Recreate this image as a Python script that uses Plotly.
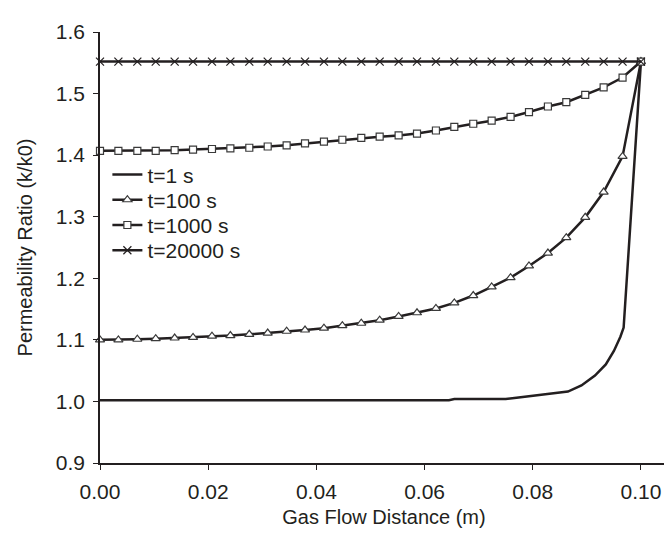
import plotly.graph_objects as go

# Gas flow distance (m) sample positions used by the marked series
x_pts = [0.0000, 0.0034, 0.0069, 0.0103, 0.0138, 0.0172, 0.0207, 0.0241, 0.0276, 0.0310,
         0.0345, 0.0379, 0.0414, 0.0448, 0.0483, 0.0517, 0.0552, 0.0586, 0.0621, 0.0655,
         0.0690, 0.0724, 0.0759, 0.0793, 0.0828, 0.0862, 0.0897, 0.0931, 0.0966, 0.1000]

k_t100 = [1.100, 1.100, 1.101, 1.102, 1.103, 1.104, 1.106, 1.107, 1.109, 1.111,
          1.114, 1.116, 1.119, 1.123, 1.127, 1.132, 1.138, 1.144, 1.151, 1.160,
          1.172, 1.186, 1.201, 1.220, 1.241, 1.266, 1.299, 1.340, 1.398, 1.552]

k_t1000 = [1.407, 1.407, 1.407, 1.407, 1.408, 1.409, 1.410, 1.411, 1.412, 1.414,
           1.416, 1.419, 1.422, 1.425, 1.428, 1.430, 1.432, 1.435, 1.440, 1.446,
           1.451, 1.456, 1.462, 1.470, 1.479, 1.486, 1.498, 1.510, 1.526, 1.552]

k_t20000 = [1.552, 1.552, 1.552, 1.552, 1.552, 1.552, 1.552, 1.552, 1.552, 1.552,
            1.552, 1.552, 1.552, 1.552, 1.552, 1.552, 1.552, 1.552, 1.552, 1.552,
            1.552, 1.552, 1.552, 1.552, 1.552, 1.552, 1.552, 1.552, 1.552, 1.552]

# t = 1 s curve (no markers)
x_t1 = [0.0, 0.0645, 0.0655, 0.075, 0.077, 0.080, 0.083, 0.0865, 0.089, 0.0915,
        0.0935, 0.0950, 0.0962, 0.0968, 0.1000]
k_t1 = [1.002, 1.002, 1.004, 1.004, 1.006, 1.009, 1.012, 1.016, 1.026, 1.042,
        1.060, 1.082, 1.105, 1.120, 1.552]

names = ["t=1 s", "t=100 s", "t=1000 s", "t=20000 s"]
x_ticks = [0.00, 0.02, 0.04, 0.06, 0.08, 0.10]
y_ticks = [0.9, 1.0, 1.1, 1.2, 1.3, 1.4, 1.5, 1.6]

LINE = "#231f20"
MK = "#3a3a3a"
FONT = "Liberation Sans, Arial, sans-serif"
Y_MIN, Y_MAX = 0.9, 1.6

fig = go.Figure()
fig.add_trace(go.Scatter(x=x_t1, y=k_t1, mode="lines", name=names[0], legend="legend",
                         line=dict(color=LINE, width=2.5)))
fig.add_trace(go.Scatter(x=x_pts, y=k_t100, mode="lines+markers", name=names[1], legend="legend2",
                         line=dict(color=LINE, width=2.5),
                         marker=dict(symbol="triangle-up", size=8, color="white",
                                     line=dict(color=MK, width=1.2))))
fig.add_trace(go.Scatter(x=x_pts, y=k_t1000, mode="lines+markers", name=names[2], legend="legend3",
                         line=dict(color=LINE, width=2.5),
                         marker=dict(symbol="square", size=7, color="white",
                                     line=dict(color=MK, width=1.2))))
fig.add_trace(go.Scatter(x=x_pts, y=k_t20000, mode="lines+markers", name=names[3], legend="legend4",
                         line=dict(color=LINE, width=2.5),
                         marker=dict(symbol="x-thin-open", size=8,
                                     line=dict(color=MK, width=1.2))))
fig.update_traces(cliponaxis=False)

# legend rows placed at these value levels (Excel-style tight legend)
legend_levels = [1.368, 1.327, 1.286, 1.245]
leg_common = dict(x=0.013, xanchor="left", yanchor="middle", bgcolor="rgba(0,0,0,0)",
                  font=dict(size=21, family=FONT, color="#231f20"))
legend_layout = {}
for i, lv in enumerate(legend_levels):
    key = "legend" if i == 0 else f"legend{i + 1}"
    legend_layout[key] = dict(leg_common, y=(lv - Y_MIN) / (Y_MAX - Y_MIN))

fig.update_layout(
    width=672, height=547,
    margin=dict(l=92, r=12, t=13, b=92),
    paper_bgcolor="white", plot_bgcolor="white",
    font=dict(family=FONT, size=21, color="#231f20"),
    showlegend=True,
    xaxis=dict(range=[0, 0.105], tickvals=x_ticks, tickformat=".2f",
               showgrid=False, zeroline=False, showline=True, linecolor="#231f20", linewidth=1.5,
               ticks="outside", ticklen=5, tickcolor="#231f20", ticklabelstandoff=4,
               tickfont=dict(size=21),
               title=dict(text="Gas Flow Distance (m)", font=dict(size=20), standoff=8)),
    yaxis=dict(range=[Y_MIN, Y_MAX], tickvals=y_ticks, tickformat=".1f",
               showgrid=False, zeroline=False, showline=True, linecolor="#231f20", linewidth=1.5,
               ticks="outside", ticklen=5, tickcolor="#231f20", ticklabelstandoff=4,
               tickfont=dict(size=21),
               title=dict(text="Permeability Ratio (k/k0)", font=dict(size=20), standoff=18)),
    **legend_layout,
)

fig.write_html("out.html")
